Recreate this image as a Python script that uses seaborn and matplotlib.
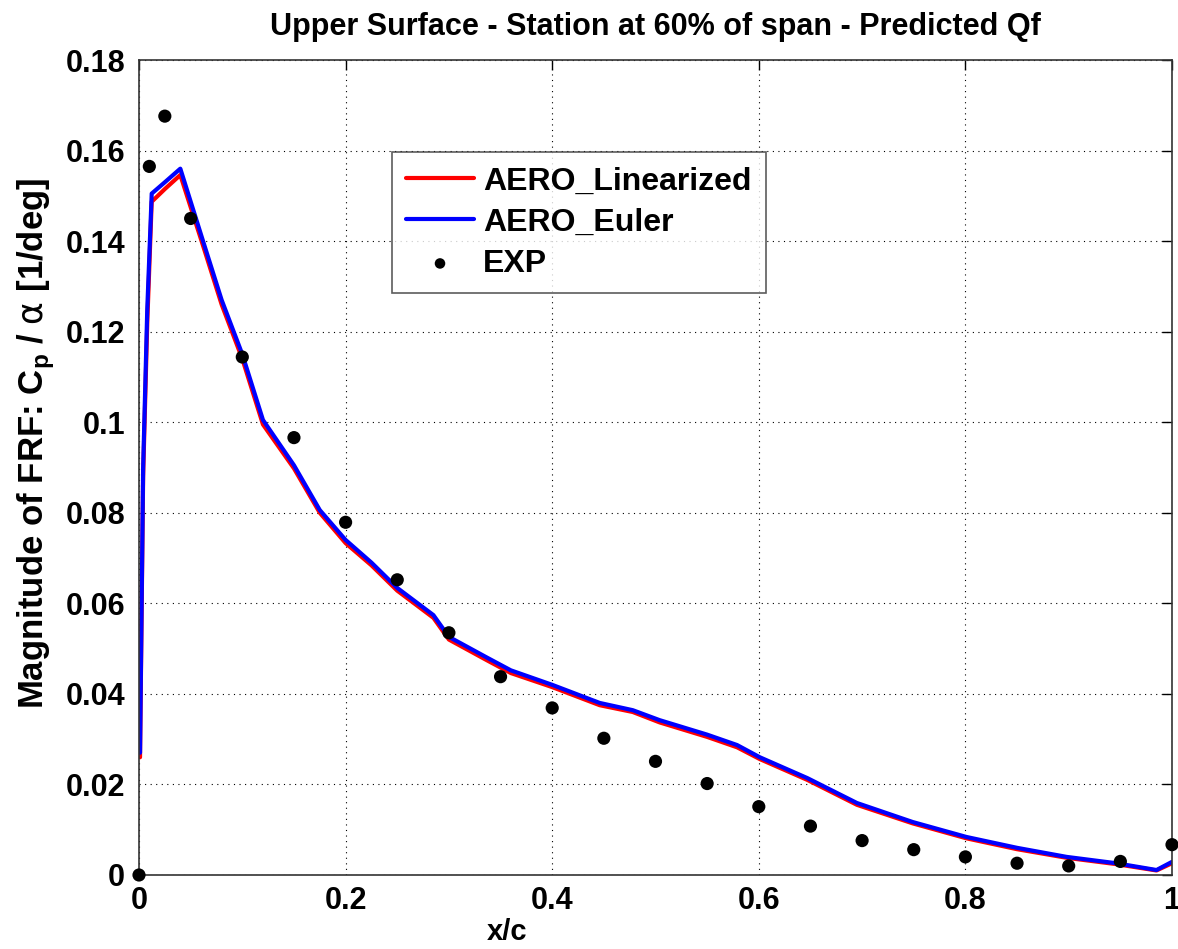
import numpy as np
import pandas as pd
import matplotlib
matplotlib.use("Agg")
import matplotlib.pyplot as plt
import seaborn as sns

# Chordwise stations (x/c) for the computed pressure FRF
x_cfd = [0.001, 0.004, 0.008, 0.0123, 0.025, 0.040, 0.062, 0.080, 0.100, 0.120,
         0.150, 0.175, 0.200, 0.225, 0.250, 0.285, 0.300, 0.337, 0.360, 0.400,
         0.446, 0.478, 0.504, 0.550, 0.579, 0.601, 0.647, 0.695, 0.749, 0.801,
         0.850, 0.898, 0.946, 0.985, 1.000]
# AERO_Euler magnitude
y_euler = [0.027, 0.090, 0.125, 0.1505, 0.153, 0.156, 0.140, 0.127, 0.115, 0.1005,
           0.0905, 0.0806, 0.0740, 0.0690, 0.0634, 0.0574, 0.0526, 0.0480, 0.0452, 0.0420,
           0.0380, 0.0364, 0.0342, 0.0310, 0.0287, 0.0260, 0.0214, 0.0159, 0.0117, 0.0084,
           0.0060, 0.0040, 0.0026, 0.0011, 0.0029]
# AERO_Linearized magnitude
y_linear = [0.026, 0.088, 0.122, 0.1487, 0.1515, 0.1546, 0.1390, 0.1260, 0.1140, 0.0995,
            0.0898, 0.0800, 0.0733, 0.0684, 0.0628, 0.0568, 0.0520, 0.0474, 0.0446, 0.0415,
            0.0375, 0.0360, 0.0337, 0.0305, 0.0282, 0.0256, 0.0210, 0.0155, 0.0114, 0.0081,
            0.0057, 0.0038, 0.0024, 0.0010, 0.0026]
# Experimental data
x_exp = [0.0, 0.01, 0.025, 0.05, 0.10, 0.15, 0.20, 0.25, 0.30, 0.35, 0.40, 0.45,
         0.50, 0.55, 0.60, 0.65, 0.70, 0.75, 0.80, 0.85, 0.90, 0.95, 1.00]
y_exp = [0.0, 0.1565, 0.1676, 0.145, 0.1144, 0.0966, 0.0779, 0.0652, 0.0535, 0.0438,
         0.0369, 0.0302, 0.0251, 0.0202, 0.0151, 0.0108, 0.0076, 0.0056, 0.0040, 0.0026,
         0.0020, 0.0030, 0.0067]

x_ticks = ["0", "0.2", "0.4", "0.6", "0.8", "1"]
y_ticks = ["0", "0.02", "0.04", "0.06", "0.08", "0.1", "0.12", "0.14", "0.16", "0.18"]

sns.set_style("white")
plt.rcParams["font.family"] = ["Liberation Sans", "DejaVu Sans"]
plt.rcParams["font.weight"] = "bold"
plt.rcParams["text.color"] = "black"
plt.rcParams["axes.labelcolor"] = "black"
plt.rcParams["xtick.color"] = "black"
plt.rcParams["ytick.color"] = "black"
plt.rcParams["mathtext.fontset"] = "custom"
plt.rcParams["mathtext.rm"] = "Liberation Sans:bold"
plt.rcParams["mathtext.bf"] = "Liberation Sans:bold"
plt.rcParams["mathtext.it"] = "DejaVu Sans:weight=normal"

fig = plt.figure(figsize=(11.78, 9.49), dpi=100)
ax = fig.add_axes([139 / 1178, 1 - 875 / 949, 1033 / 1178, 815 / 949])

df_lin = pd.DataFrame({"x": x_cfd, "y": y_linear})
df_eul = pd.DataFrame({"x": x_cfd, "y": y_euler})
df_exp = pd.DataFrame({"x": x_exp, "y": y_exp})

sns.lineplot(data=df_lin, x="x", y="y", ax=ax, color="#ff0000", lw=3.0,
             label="AERO_Linearized", sort=False, estimator=None)
sns.lineplot(data=df_eul, x="x", y="y", ax=ax, color="#0000ff", lw=3.0,
             label="AERO_Euler", sort=False, estimator=None)
sns.scatterplot(data=df_exp, x="x", y="y", ax=ax, color="black", s=90,
                edgecolor="none", label="EXP", zorder=5, clip_on=False)

ax.set_xlim(0, 1)
ax.set_ylim(0, 0.18)
ax.set_xticks(np.linspace(0, 1, len(x_ticks)))
ax.set_xticklabels(x_ticks)
ax.set_yticks(np.linspace(0, 0.18, len(y_ticks)))
ax.set_yticklabels(y_ticks)
ax.tick_params(direction="in", length=7, width=1, top=True, right=True,
               labelsize=22, pad=8)
ax.tick_params(axis="y", pad=10)
for lab in ax.get_xticklabels() + ax.get_yticklabels():
    lab.set_fontweight("bold")
ax.grid(True, linestyle=(0, (1, 4)), color="black", linewidth=0.8)
for sp in ax.spines.values():
    sp.set_color("#333333")
    sp.set_linewidth(1.2)

ax.set_xlabel("x/c", fontsize=21, fontweight="bold")
ax.xaxis.set_label_coords(0.356, -0.053)
ax.xaxis.label.set_va("top")
ax.set_ylabel(r"Magnitude of FRF: C$_{\mathrm{p}}$ / $\alpha$ [1/deg]",
              fontsize=25, fontweight="bold")
ax.yaxis.set_label_coords(-0.079, 0.53)
ax.set_title("Upper Surface - Station at 60% of span - Predicted Qf",
             fontsize=22, fontweight="bold", pad=18)

leg = ax.legend(loc="upper left", bbox_to_anchor=(0.245, 0.887), fontsize=23,
                frameon=True, fancybox=False, edgecolor="#333333",
                handlelength=2.1, handletextpad=0.3, borderpad=0.45,
                labelspacing=0.35, borderaxespad=0, markerscale=0.8)
leg.get_frame().set_linewidth(1.2)
for t in leg.get_texts():
    t.set_fontweight("bold")

fig.savefig("out.png", dpi=100)
